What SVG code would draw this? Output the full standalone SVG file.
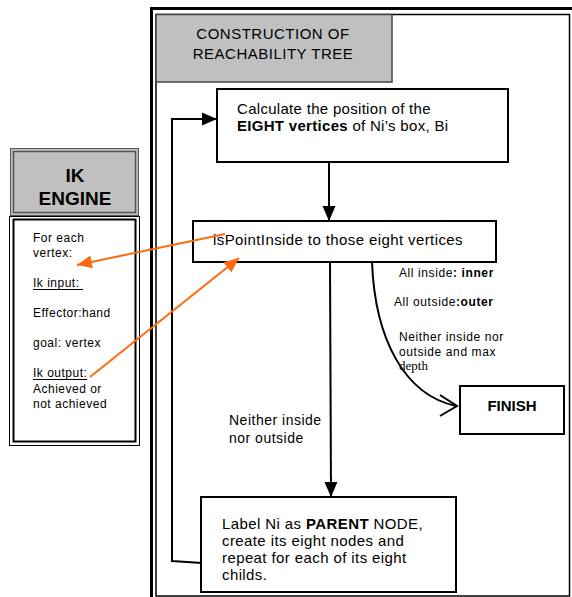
<svg xmlns="http://www.w3.org/2000/svg" width="572" height="597" viewBox="0 0 572 597">
<style>
.box{fill:#fff;stroke:#000;stroke-width:2}
.t{font-family:"Liberation Sans",Arial,sans-serif;fill:#000}
.b{font-weight:bold}
.ln{fill:none;stroke:#000;stroke-width:2}
.or{fill:none;stroke:#ff6a10;stroke-width:2}
</style>
<defs>
<marker id="ah" markerUnits="userSpaceOnUse" markerWidth="16" markerHeight="16" viewBox="0 0 16 16" refX="15" refY="8" orient="auto"><path d="M0,1.5 L15,8 L0,14.5 Z" fill="#000"/></marker>
<marker id="oh" markerUnits="userSpaceOnUse" markerWidth="16" markerHeight="14" viewBox="0 0 16 14" refX="15" refY="7" orient="auto"><path d="M0,0.5 L15,7 L0,13.5 Z" fill="#ff6a10"/></marker>
</defs>
<rect width="572" height="597" fill="#fff"/>

<g id="frame">
<rect x="151.5" y="8.5" width="430" height="600" fill="none" stroke="#000" stroke-width="3"/>
<rect x="156" y="14.5" width="413.5" height="581.5" fill="none" stroke="#000" stroke-width="1.5"/>
</g>

<g id="title">
<rect x="156" y="14.5" width="236" height="67.5" fill="#c0c0c0" stroke="#444" stroke-width="1.5"/>
<text class="t" x="273" y="39" font-size="15" letter-spacing="0.5" text-anchor="middle">CONSTRUCTION  OF</text>
<text class="t" x="273" y="59" font-size="15" letter-spacing="0.5" text-anchor="middle">REACHABILITY TREE</text>
</g>

<g id="ik-header">
<rect x="10.5" y="148.5" width="128" height="67" fill="#c0c0c0" stroke="#555" stroke-width="1"/>
<rect x="13.5" y="151.5" width="122" height="61" fill="none" stroke="#555" stroke-width="1.5"/>
<text class="t b" x="75" y="182" font-size="19" text-anchor="middle">IK</text>
<text class="t b" x="75" y="205" font-size="19" text-anchor="middle">ENGINE</text>
</g>

<g id="ik-body">
<rect x="9.5" y="216.5" width="130" height="229" fill="#fff" stroke="#000" stroke-width="1"/>
<rect x="13.5" y="219.5" width="122" height="222" fill="none" stroke="#000" stroke-width="2"/>
<g class="t" font-size="12" letter-spacing="0.5">
<text x="33" y="242">For each</text>
<text x="33" y="257">vertex:</text>
<text x="33" y="287">Ik input:</text>
<text x="33" y="317">Effector:hand</text>
<text x="33" y="347">goal: vertex</text>
<text x="33" y="377">Ik output:</text>
<text x="33" y="393">Achieved or</text>
<text x="33" y="408">not achieved</text>
</g>
<line x1="33" y1="289.5" x2="83" y2="289.5" stroke="#000" stroke-width="1"/>
<line x1="33" y1="379.5" x2="87" y2="379.5" stroke="#000" stroke-width="1"/>
</g>

<g id="calc">
<rect class="box" x="217" y="89" width="291" height="73"/>
<text class="t" x="237" y="114" font-size="15" letter-spacing="0.3">Calculate the position of the</text>
<text class="t" x="237" y="131" font-size="15" letter-spacing="0.3"><tspan class="b">EIGHT vertices</tspan> of Ni’s box, Bi</text>
</g>

<g id="ispoint">
<rect class="box" x="193" y="221" width="303" height="41"/>
<text class="t" x="213" y="245" font-size="15" letter-spacing="0.4">isPointInside to those eight vertices</text>
</g>

<g id="finish">
<rect class="box" x="460" y="386" width="104" height="48"/>
<text class="t b" x="512" y="411" font-size="15" text-anchor="middle">FINISH</text>
</g>

<g id="parent">
<rect class="box" x="201" y="497" width="255" height="95"/>
<g class="t" font-size="15" letter-spacing="0.4">
<text x="222" y="529">Label Ni as <tspan class="b">PARENT</tspan> NODE,</text>
<text x="222" y="546">create its eight nodes and</text>
<text x="222" y="563">repeat for each of its eight</text>
<text x="222" y="580">childs.</text>
</g>
</g>

<g id="connectors">
<line class="ln" x1="329" y1="162" x2="329" y2="221" marker-end="url(#ah)"/>
<line class="ln" x1="330" y1="262" x2="331" y2="497" marker-end="url(#ah)"/>
<polyline class="ln" points="202,563 172,561 172,119 217,119" marker-end="url(#ah)"/>
<path class="ln" d="M372,262 C375,340 405,395 456,406"/>
<polyline class="ln" points="440,395 457,406 440,416"/>
<line class="or" x1="225" y1="234" x2="77" y2="265" marker-end="url(#oh)"/>
<line class="or" x1="90" y1="377" x2="239" y2="258" marker-end="url(#oh)"/>
</g>

<g id="labels" class="t" font-size="12" letter-spacing="0.6">
<text x="399" y="277">All inside<tspan class="b">: inner</tspan></text>
<text x="394" y="306">All outside<tspan class="b">:outer</tspan></text>
<text x="399" y="341">Neither inside nor</text>
<text x="399" y="356">outside and max</text>
<text x="399" y="370" font-family="'Liberation Serif',serif" letter-spacing="0" font-size="13">depth</text>
<text x="229" y="425" font-size="14" letter-spacing="0.5">Neither inside</text>
<text x="229" y="443" font-size="14" letter-spacing="0.5">nor outside</text>
</g>
</svg>
